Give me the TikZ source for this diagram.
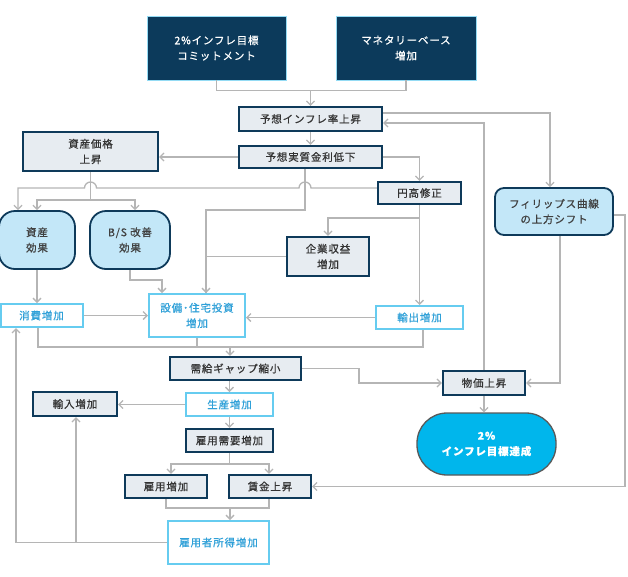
\documentclass[tikz,border=0pt]{standalone}
\usepackage{fontspec}
\setmainfont{Noto Sans CJK JP}[LetterSpace=8,FakeBold=0.7]
\usetikzlibrary{arrows.meta}
\definecolor{navy}{HTML}{0C3A5B}
\definecolor{edge}{HTML}{0E3A5A}
\definecolor{pale}{HTML}{E7ECF1}
\definecolor{sky}{HTML}{C3E7F8}
\definecolor{cyanline}{HTML}{66CCF0}
\definecolor{cyantext}{HTML}{2FA0D8}
\definecolor{goalfill}{HTML}{00B6EC}
\definecolor{wire}{HTML}{B5B5B5}
\begin{document}
\begin{tikzpicture}[x=1pt,y=-1pt,
  >={Straight Barb[length=4pt,width=8pt]},
  every node/.style={font=\fontsize{10.5}{15.5}\selectfont,align=center,inner sep=0pt},
  darkbox/.style={fill=navy,draw=cyanline!70,line width=0.8pt,text=white},
  greybox/.style={fill=pale,draw=edge,line width=2.2pt,text=black!80},
  outbox/.style={fill=white,draw=cyanline,line width=2pt,text=cyantext},
  bubble/.style={fill=sky,draw=edge,line width=1.8pt,text=black!75},
  goalbox/.style={fill=goalfill,draw=black!65,line width=1.3pt,text=white,rounded corners=30pt,font=\fontsize{10.5}{15.5}\selectfont\bfseries},
  line/.style={draw=wire,line width=1.3pt},
  arr/.style={line,->}]

\useasboundingbox (0,0) rectangle (628,576);

\node[darkbox,minimum width=139,minimum height=64] (commit) at (216.5,48) {2\%インフレ目標\\コミットメント};
\node[darkbox,minimum width=140,minimum height=64] (mb) at (406,48) {マネタリーベース\\増加};
\node[greybox,minimum width=143,minimum height=24] (expinf) at (310.5,119) {予想インフレ率上昇};
\node[greybox,minimum width=143,minimum height=22] (realrate) at (310.5,157) {予想実質金利低下};
\node[greybox,minimum width=135,minimum height=39] (asset) at (90.5,151.5) {資産価格\\上昇};
\node[greybox,minimum width=83,minimum height=22] (yen) at (419.5,193) {円高修正};
\node[bubble,rounded corners=9pt,minimum width=118,minimum height=47] (phillips) at (554,211.5) {フィリップス曲線\\の上方シフト};
\node[bubble,rounded corners=16pt,minimum width=76,minimum height=58] (assetef) at (37,240) {資産\\効果};
\node[bubble,rounded corners=16pt,minimum width=80,minimum height=58] (bs) at (130,240) {B/S 改善\\効果};
\node[greybox,minimum width=82,minimum height=39] (profit) at (328,256.5) {企業収益\\増加};
\node[outbox,minimum width=82,minimum height=23] (consume) at (41.5,315.5) {消費増加};
\node[outbox,minimum width=96,minimum height=43] (invest) at (197,315.5) {設備･住宅投資\\増加};
\node[outbox,minimum width=87,minimum height=23] (export) at (419.5,317.5) {輸出増加};
\node[greybox,minimum width=131,minimum height=23] (gap) at (235.5,368.5) {需給ギャップ縮小};
\node[greybox,minimum width=82,minimum height=24] (price) at (484,383) {物価上昇};
\node[goalbox,minimum width=139,minimum height=62] (goal) at (486.5,444) {2\%\\インフレ目標達成};
\node[greybox,minimum width=84,minimum height=24] (import) at (75,404) {輸入増加};
\node[outbox,minimum width=87,minimum height=23] (prod) at (229.5,404.5) {生産増加};
\node[greybox,minimum width=87,minimum height=23] (labdem) at (229.5,440.5) {雇用需要増加};
\node[greybox,minimum width=82,minimum height=23] (employ) at (166,486.5) {雇用増加};
\node[greybox,minimum width=82,minimum height=23] (wage) at (270,486.5) {賃金上昇};
\node[outbox,minimum width=101,minimum height=43] (income) at (218.5,542.5) {雇用者所得増加};

\coordinate (merge) at (230,346);
\coordinate (pool) at (230,507);

\draw[arr] (commit.south) -- ++(0,10) -| (expinf.north);
\draw[line] (mb.south) -- ++(0,10) -| (expinf.north);
\draw[arr] (expinf) -- (realrate);
\draw[arr] ([yshift=6pt]expinf.east) -| ([xshift=-4pt]phillips.north);
\draw[arr] (price.north) |- ([yshift=-4pt]expinf.east);
\draw[arr] (realrate.west) -- (asset.east |- realrate.west);
\draw[arr] (realrate.east) -| (yen.north);
\draw[arr] ([yshift=5pt]yen.west) -- (311,188) arc (0:180:6pt) -- (96.5,188) arc (0:180:6pt) -| ([xshift=-19pt]assetef.north);
\draw[arr] (asset.south) -- ++(0,28) -| (assetef.north);
\draw[arr] (asset.south) -- ++(0,28) -| ([xshift=5pt]bs.north);
\draw[arr] ([xshift=-5.5pt]realrate.south) -- ++(0,41) -| ([xshift=9pt]invest.north);
\draw[line] (profit.west) -| ([xshift=9pt]invest.north);
\draw[arr] (yen.south) -- (export.north);
\draw[arr] (yen.south) -- ++(0,13) -| (profit.north);
\draw[arr] (bs.south) -- ++(0,10) -| ([xshift=-35pt]invest.north);
\draw[arr] (assetef.south) -- (assetef.south |- consume.north);
\draw[arr] (consume.east) -- (invest.west |- consume.east);
\draw[arr] (export.west) -- (invest.east |- export.west);
\draw[line] ([xshift=-3.5pt]consume.south) -- ++(0,19) -| ([xshift=3.5pt]export.south);
\draw[line] (invest.south) -- (invest.south |- merge);
\draw[arr] (merge) -- (merge |- gap.north);
\draw[arr] (gap.east) -- ++(57,0) |- (price.west);
\draw[arr] ([xshift=6pt]phillips.south) |- (price.east);
\draw[arr] ([yshift=-3.5pt]phillips.east) -- ++(11,0) |- (wage.east);
\draw[arr] (price.south) -- (price.south |- goal.north);
\draw[arr] (gap.south -| prod.north) -- (prod.north);
\draw[arr] (prod.west) -- (import.east |- prod.west);
\draw[arr] (prod) -- (labdem);
\draw[arr] (labdem.south) -- ++(0,11) -| ([xshift=5pt]employ.north);
\draw[arr] (labdem.south) -- ++(0,11) -| ([xshift=-1pt]wage.north);
\draw[line] (employ.south) -- ++(0,9) -| ([xshift=-1pt]wage.south);
\draw[arr] (pool) -- (pool |- income.north);
\draw[arr] (income.west) -| ([xshift=-25.5pt]consume.south);
\draw[arr] (income.west) -| ([xshift=1pt]import.south);

\end{tikzpicture}
\end{document}
